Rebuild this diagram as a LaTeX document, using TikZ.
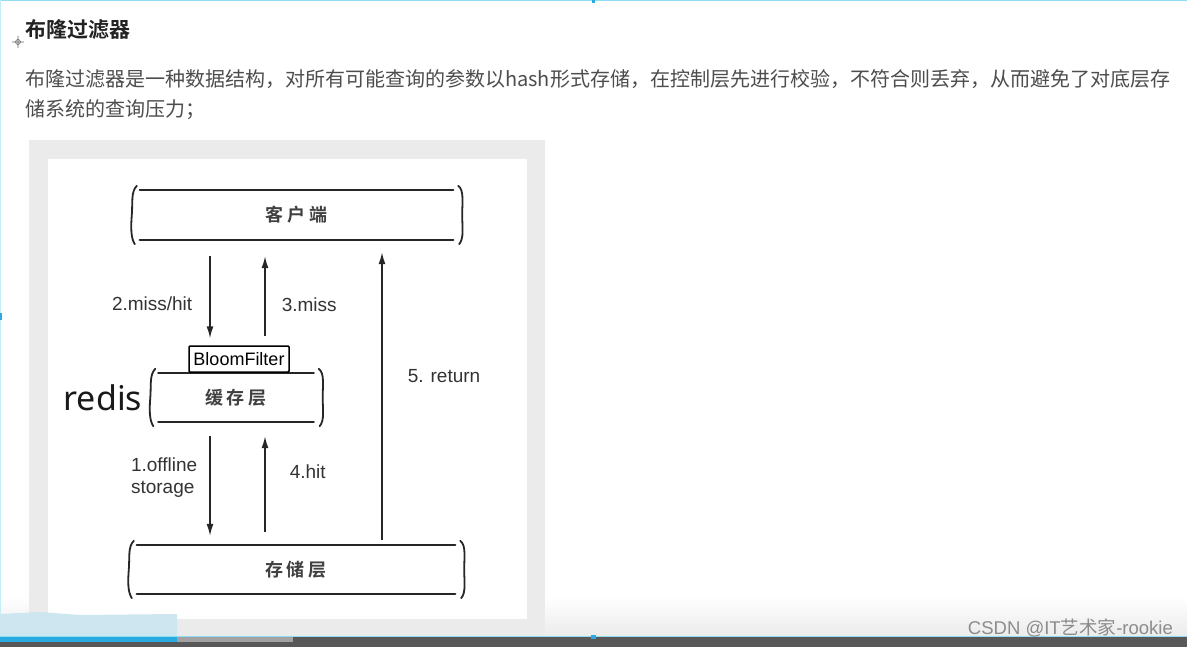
\documentclass[tikz,border=0pt]{standalone}
\usepackage{fontspec}
\setmainfont{Liberation Sans}
\newfontfamily\cjk[BoldFont={Noto Sans CJK SC Bold}]{Noto Sans CJK SC}
\newfontfamily\redisfont{Noto Sans}
\usetikzlibrary{positioning, calc, arrows.meta}
\definecolor{bodytext}{HTML}{4D4D4D}
\definecolor{titletext}{HTML}{222222}
\definecolor{framegray}{HTML}{EBEBEB}
\definecolor{paleblue}{HTML}{CDE6EF}
\definecolor{barblue}{HTML}{29ABE2}
\definecolor{bargray}{HTML}{A2A2A2}
\definecolor{bardark}{HTML}{585858}
\definecolor{edgecyan}{HTML}{8EDDF3}
\tikzset{
    >={Latex[length=12pt,width=7pt]}, % narrow filled heads
    layer/.style={minimum height=50pt, inner sep=0pt, font=\cjk\bfseries\fontsize{18}{18}\selectfont, text=black!75}, % one storage layer
    rim/.style={line width=2.4pt, line cap=round, draw=black!85},
    flow/.style={->, line width=1.5pt, draw=black!85},
    lbl/.style={inner sep=0pt, font=\fontsize{19}{22}\selectfont, text=black!80},
    bfbox/.style={draw, line width=1.5pt, rounded corners=1pt, minimum width=100pt, minimum height=26pt, inner sep=1pt, font=\fontsize{18}{18}\selectfont},
}
% top and bottom rules plus the two curly sides of a layer
\newcommand{\layerrim}[1]{%
    \draw[rim] (#1.north west) -- (#1.north east);
    \draw[rim] (#1.south west) -- (#1.south east);
    \draw[rim, line width=1.8pt] ($(#1.north west)+(-3,-4)$) .. controls ($(#1.north west)+(-9,2)$) and ($(#1.west)+(-7,-12)$) .. ($(#1.west)+(-8,0)$)
        .. controls ($(#1.west)+(-9,12)$) and ($(#1.south west)+(-9,-2)$) .. ($(#1.south west)+(-5,4)$);
    \draw[rim, line width=1.8pt] ($(#1.north east)+(5,-4)$) .. controls ($(#1.north east)+(11,0)$) and ($(#1.east)+(9,-12)$) .. ($(#1.east)+(9,0)$)
        .. controls ($(#1.east)+(9,12)$) and ($(#1.south east)+(11,-2)$) .. ($(#1.south east)+(6,4)$);
}
\begin{document}
\begin{tikzpicture}[x=1pt, y=-1pt]
    \useasboundingbox (0,0) rectangle (1187,647);
    \fill[white] (0,0) rectangle (1187,647);
    % page edges and bottom bar
    \shade[top color=white, bottom color=black!8] (0,596) rectangle (1187,637);
    \fill[edgecyan] (0,0) rectangle (1187,1.5);
    \fill[edgecyan!50] (0,0) rectangle (1,640);
    \fill[barblue] (592,0) rectangle (595,3);
    \fill[barblue] (0,313) rectangle (2,320);
    % the pasted screenshot
    \fill[framegray] (29,140) rectangle (545,636);
    \fill[white] (48,159) rectangle (527,619);
    \fill[paleblue] (0,614) -- (40,612) -- (80,615) -- (177,614) -- (177,637) -- (0,637) -- cycle;
    \fill[edgecyan] (0,635.5) rectangle (1187,637);
    \fill[barblue] (0,637) rectangle (177,642);
    \fill[bargray] (177,637) rectangle (293,642);
    \fill[bardark] (293,637) rectangle (1187,642);
    \fill[bardark] (0,642) rectangle (1187,647);
    \fill[barblue] (591,635) rectangle (596,639);
    % cursor mark
    \draw[black!60, line width=0.6pt] (18,42) circle (2.5pt) (12,42) -- (24,42) (18,36) -- (18,48);

    % heading and text
    \node[anchor=west, inner sep=0pt, font=\cjk\bfseries\fontsize{21}{21}\selectfont, text=titletext] (title) at (25,30) {布隆过滤器};
    \node[anchor=west, inner sep=0pt, font=\cjk\fontsize{20}{20}\selectfont, text=bodytext] (line1) at (25,79) {布隆过滤器是一种数据结构，对所有可能查询的参数以hash形式存储，在控制层先进行校验，不符合则丢弃，从而避免了对底层存};
    \node[anchor=west, inner sep=0pt, font=\cjk\fontsize{20}{20}\selectfont, text=bodytext] (line2) at (25,110) {储系统的查询压力；};

    % layers
    \node[layer, minimum width=313pt] (client) at (296.5,215) {客\hspace{4pt}户\hspace{4pt}端};
    \node[layer, minimum width=155pt, minimum height=49pt] (cache) at (236,397.5) {缓\hspace{4pt}存\hspace{4pt}层};
    \node[layer, minimum width=318pt, minimum height=49pt] (store) at (296,569.5) {存\hspace{4pt}储\hspace{4pt}层};
    \layerrim{client}
    \layerrim{cache}
    \layerrim{store}
    \node[bfbox, above=0pt of cache, xshift=3pt] (bloom) {BloomFilter};
    \node[inner sep=0pt, left=16pt of cache, font=\redisfont\fontsize{34}{34}\selectfont, text=black!90] (redis) {redis};

    % arrow columns
    \coordinate (colA) at (210,0);
    \coordinate (colB) at (265,0);
    \coordinate (colC) at (382,0);

    \draw[flow] ($(client.south -| colA)+(0,16)$) -- node[lbl, pos=0.58, left=17pt] {2.miss/hit} ($(bloom.north -| colA)+(0,-7)$);
    \draw[flow] ($(bloom.north -| colB)+(0,-9)$) -- node[lbl, pos=0.40, right=16pt] {3.miss} ($(client.south -| colB)+(0,16)$);
    \draw[flow] ($(store.north -| colC)+(0,-5)$) -- node[lbl, pos=0.57, right=25pt] {5. return} ($(client.south -| colC)+(0,12)$);
    \draw[flow] ($(cache.south -| colA)+(0,14)$) -- node[lbl, pos=0.42, left=12pt, align=left] {1.offline\\storage} ($(store.north -| colA)+(0,-9)$);
    \draw[flow] ($(store.north -| colB)+(0,-13)$) -- node[lbl, pos=0.625, right=24pt] {4.hit} ($(cache.south -| colB)+(0,14)$);

    % watermark
    \node[anchor=east, inner sep=0pt, font=\fontsize{18.5}{18.5}\selectfont, text=black!45] (mark) at (1173,628) {CSDN @IT{\cjk 艺术家}-rookie};
\end{tikzpicture}
\end{document}
